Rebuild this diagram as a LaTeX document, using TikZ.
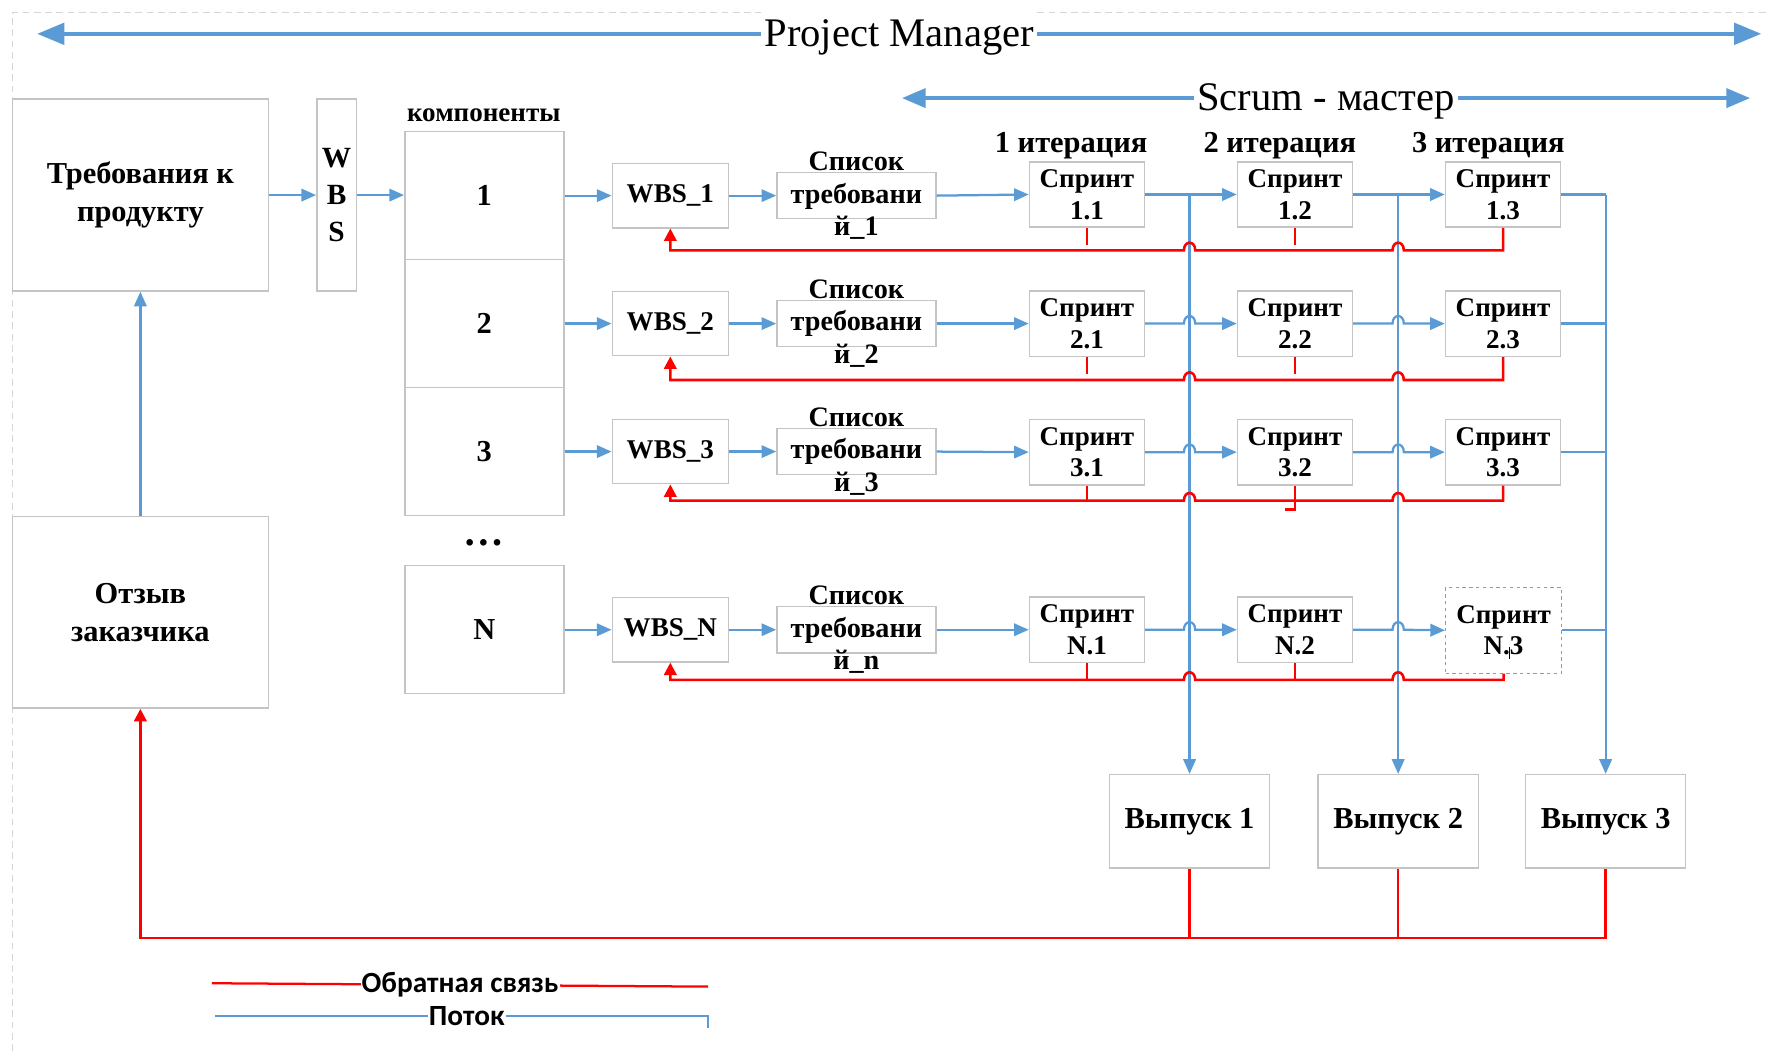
\documentclass[tikz,border=0pt]{standalone}
\usepackage{fontspec}
\setmainfont{Liberation Serif}
\newfontfamily\legendfont{Carlito}
\usetikzlibrary{arrows.meta,calc}

\definecolor{flowblue}{HTML}{5B9BD5}
\definecolor{fbred}{HTML}{FF0000}
\definecolor{boxgray}{HTML}{C4C4C4}
\definecolor{framegray}{HTML}{D6D6D6}

\newcommand\fsz[2]{\fontsize{#1}{#2}\selectfont}
% small bridge where a line jumps over a vertical flow line
\newcommand\hopR[1]{-- ($(#1)+(-5,0)$) .. controls +(0,-9) and +(0,-9) .. ($(#1)+(5,0)$)}
\newcommand\hopL[1]{-- ($(#1)+(5,0)$) .. controls +(0,-9) and +(0,-9) .. ($(#1)+(-5,0)$)}

\begin{document}
\begin{tikzpicture}[x=1pt,y=-1pt,
  box/.style={draw=boxgray,line width=1.3pt,fill=white,inner sep=0pt,align=center,font=\bfseries\fsz{27}{34}},
  txt/.style={inner sep=0pt,align=center},
  sprint/.style={box,minimum width=102pt,minimum height=58pt,font=\bfseries\fsz{24}{28}},
  wbsbox/.style={box,minimum width=103pt,minimum height=57pt,font=\bfseries\fsz{24}{28}},
  listbox/.style={box,minimum width=141pt,minimum height=41pt},
  listtxt/.style={txt,font=\bfseries\fsz{25}{29}},
  comp/.style={box,minimum width=141pt,minimum height=113.5pt,font=\bfseries\fsz{27}{30}},
  release/.style={box,minimum width=142pt,minimum height=83pt},
  iter/.style={txt,font=\bfseries\fsz{27}{30}},
  flow/.style={draw=flowblue,line width=2pt},
  flowarr/.style={flow,-{Triangle[length=13pt,width=11pt]}},
  fback/.style={draw=fbred,line width=2.3pt},
  fbarr/.style={fback,-{Triangle[length=11pt,width=11pt]}},
  role/.style={draw=flowblue,line width=3.2pt},
  roletxt/.style={fill=white,inner sep=3pt,minimum height=48pt,font=\fsz{36}{40}},
  legendtxt/.style={fill=white,inner sep=1pt,font=\legendfont\bfseries\fsz{26}{28}},
]
\useasboundingbox (0,0) rectangle (1568,932);

% page frame
\draw[framegray,line width=1.2pt,dash pattern=on 6pt off 4pt] (11,932) -- (11,11) -- (1568,11);

% roles
\coordinate (pmL) at (33,30);
\coordinate (pmR) at (1562,30);
\draw[role,{Triangle[length=24pt,width=19pt]}-{Triangle[length=24pt,width=19pt]}] (pmL) -- (pmR);
\node[roletxt] (pm) at (797.5,33) {Project Manager};
\coordinate (smL) at (800,87);
\coordinate (smR) at (1552,87);
\draw[role,line width=3pt,{Triangle[length=21pt,width=17pt]}-{Triangle[length=21pt,width=17pt]}] (smL) -- (smR);
\node[roletxt,minimum height=40pt] (sm) at (1176,89.5) {Scrum - мастер};

% left column
\node[box,minimum width=227pt,minimum height=170pt] (req) at (124.5,173) {Требования к\\продукту};
\node[box,minimum width=227pt,minimum height=170pt] (cust) at (124.5,543) {Отзыв\\заказчика};
\node[box,minimum width=35pt,minimum height=170pt,font=\bfseries\fsz{26}{33}] (wbs) at (298.5,173) {W\\B\\S};

% components
\node[txt,font=\bfseries\fsz{24}{28}] (complbl) at (429,102) {компоненты};
\node[comp] (c1) at (429.5,173.5) {1};
\node[comp] (c2) at (429.5,287) {2};
\node[comp] (c3) at (429.5,400.5) {3};
\node[txt,font=\bfseries\fsz{36}{36}] (dots) at (429,481) {…};
\node[comp] (c4) at (429.5,558.5) {N};

% work breakdown per component
\node[wbsbox] (w1) at (594.5,173.5) {WBS\_1};
\node[wbsbox] (w2) at (594.5,287) {WBS\_2};
\node[wbsbox] (w3) at (594.5,400.5) {WBS\_3};
\node[wbsbox] (w4) at (594.5,558.5) {WBS\_N};

% requirement lists
\node[listbox] (l1) at (759.5,173.5) {};
\node[listbox] (l2) at (759.5,287) {};
\node[listbox] (l3) at (759.5,400.5) {};
\node[listbox] (l4) at (759.5,558.5) {};
\node[listtxt] (l1t) at (l1) {Список\\требовани\\й\_1};
\node[listtxt] (l2t) at (l2) {Список\\требовани\\й\_2};
\node[listtxt] (l3t) at (l3) {Список\\требовани\\й\_3};
\node[listtxt] (l4t) at (l4) {Список\\требовани\\й\_n};

% iterations
\node[iter] (it1) at (950,129) {1 итерация};
\node[iter] (it2) at (1135,129) {2 итерация};
\node[iter] (it3) at (1320,129) {3 итерация};

% sprints
\node[sprint] (s11) at (964,172.5) {Спринт\\1.1};
\node[sprint] (s12) at (1148.5,172.5) {Спринт\\1.2};
\node[sprint] (s13) at (1333,172.5) {Спринт\\1.3};
\node[sprint] (s21) at (964,287) {Спринт\\2.1};
\node[sprint] (s22) at (1148.5,287) {Спринт\\2.2};
\node[sprint] (s23) at (1333,287) {Спринт\\2.3};
\node[sprint] (s31) at (964,401) {Спринт\\3.1};
\node[sprint] (s32) at (1148.5,401) {Спринт\\3.2};
\node[sprint] (s33) at (1333,401) {Спринт\\3.3};
\node[sprint] (s41) at (964,558.5) {Спринт\\N.1};
\node[sprint] (s42) at (1148.5,558.5) {Спринт\\N.2};
\node[sprint,dashed,draw=gray!80,line width=1pt,minimum width=103pt,minimum height=76pt] (s43) at (1333.5,559) {Спринт\\N.3};
\draw[black,line width=1pt] (1339,574) -- (1339,584);

% releases
\node[release] (r1) at (1055,728.5) {Выпуск 1};
\node[release] (r2) at (1240,728.5) {Выпуск 2};
\node[release] (r3) at (1424,728.5) {Выпуск 3};

% flow: requirements to components
\draw[flowarr] (req.east) -- (wbs.west);
\draw[flowarr] (wbs.east |- req.east) -- (c1.west |- req.east);
\draw[flowarr] (cust.north) -- (req.south);
\foreach \i in {1,2,3,4}{
  \draw[flowarr] (c\i.east) -- (w\i.west);
  \draw[flowarr] (w\i.east) -- (l\i.west);
  \draw[flowarr] (l\i.east) -- (s\i1.west);
}

% flow: sprints to releases
\draw[flowarr] (s11.east -| r1.north) -- (r1.north);
\draw[flowarr] (s12.east -| r2.north) -- (r2.north);
\draw[flowarr] (s13.east -| r3.north) -- (r3.north);
\draw[flowarr] (s11.east) -- (s12.west);
\draw[flowarr] (s12.east) -- (s13.west);
\draw[flow] (s13.east) -- (s13.east -| r3.north);
\foreach \i in {2,3,4}{
  \draw[flowarr] (s\i1.east) \hopR{r1.north|-s\i1.east} -- (s\i2.west);
  \draw[flowarr] (s\i2.east) \hopR{r2.north|-s\i2.east} -- (s\i3.west);
  \draw[flow] (s\i3.east) -- (s\i3.east -| r3.north);
}

% feedback inside each component row
\coordinate (fb1) at (0,222);
\coordinate (fb2) at (0,337);
\coordinate (fb3) at (0,444);
\coordinate (fb4) at (0,603);
\foreach \i in {1,2,3,4}{
  \draw[fbarr] (s\i3.south) -- (s\i3.south |- fb\i) \hopL{r2.north|-fb\i} \hopL{r1.north|-fb\i} -- (w\i.south |- fb\i) -- (w\i.south);
}
\draw[fback] (s11.south) -- ++(0,15);
\draw[fback] (s12.south) -- ++(0,15);
\draw[fback] (s21.south) -- ++(0,15);
\draw[fback] (s22.south) -- ++(0,15);
\draw[fback] (s31.south) -- (s31.south |- fb3);
\draw[fback] (s32.south) -- ++(0,21) -- ++(-9,0);
\draw[fback] (s41.south) -- (s41.south |- fb4);
\draw[fback] (s42.south) -- (s42.south |- fb4);

% customer feedback from releases
\coordinate (bot) at (0,832);
\draw[fbarr] (r3.south) |- (cust.south |- bot) -- (cust.south);
\draw[fback] (r1.south) -- (r1.south |- bot);
\draw[fback] (r2.south) -- (r2.south |- bot);

% legend
\coordinate (lfA) at (188,872);
\coordinate (lfB) at (628,875);
\draw[fback,line width=2pt] (lfA) -- node[legendtxt] (lgf) {Обратная связь} (lfB);
\coordinate (lpA) at (191,901);
\coordinate (lpB) at (628,901);
\coordinate (lpC) at (628,912);
\draw[flow] (lpA) -- node[legendtxt,pos=0.51] (lgp) {Поток} (lpB) -- (lpC);
\end{tikzpicture}
\end{document}
